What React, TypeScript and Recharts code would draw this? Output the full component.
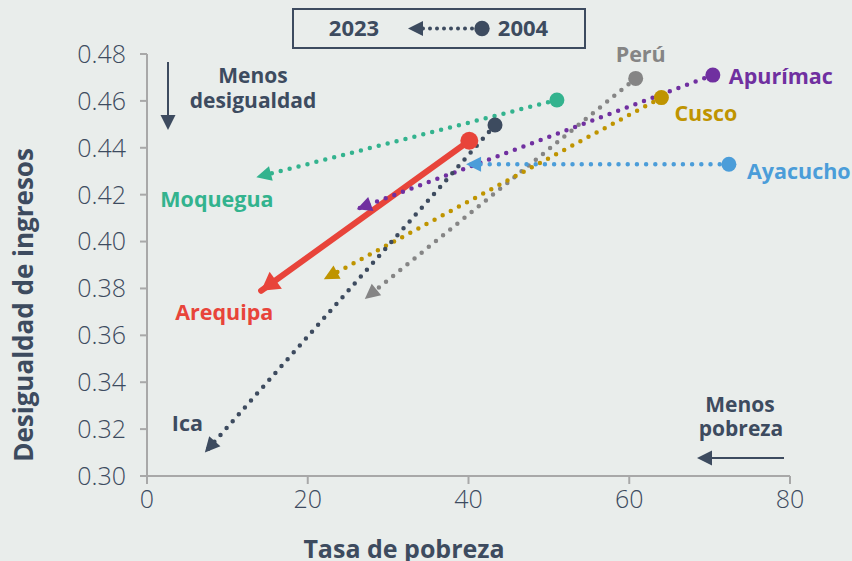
import React from 'react';
import { ComposedChart, Line, XAxis, YAxis, Label } from 'recharts';

// ---- data ----
const regions = ['Arequipa', 'Moquegua', 'Perú', 'Cusco', 'Apurímac', 'Ayacucho', 'Ica'];
const pobreza2004 = [40.1, 51.0, 60.8, 64.0, 70.4, 72.4, 43.3];
const desigualdad2004 = [0.443, 0.4604, 0.4696, 0.4614, 0.471, 0.433, 0.4497];
const pobreza2023 = [14.2, 13.6, 27.1, 22.0, 26.1, 39.7, 7.2];
const desigualdad2023 = [0.379, 0.4274, 0.3755, 0.3839, 0.4138, 0.433, 0.31];
const xTicks = [0, 20, 40, 60, 80];
const yTicks = [0.3, 0.32, 0.34, 0.36, 0.38, 0.4, 0.42, 0.44, 0.46, 0.48];
const xTitle = 'Tasa de pobreza';
const yTitle = 'Desigualdad de ingresos';
const legendFrom = '2023';
const legendTo = '2004';
const noteIneq = ['Menos', 'desigualdad'];
const notePov = ['Menos', 'pobreza'];

// ---- styles ----
const BG = '#e9edeb';
const INK = '#3d4b5f';
const FONT = '"Open Sans", "DejaVu Sans", sans-serif';

type Style = {
  color: string;
  solid?: boolean;
  labelAt: number;
  dx: number;
  dy: number;
  anchor: 'start' | 'middle' | 'end';
};
const styles: Record<string, Style> = {
  Arequipa: { color: '#e8443a', solid: true, labelAt: 1, dx: -86, dy: 21, anchor: 'start' },
  Moquegua: { color: '#33b38e', labelAt: 1, dx: -96, dy: 21, anchor: 'start' },
  'Perú': { color: '#858585', labelAt: 0, dx: 5, dy: -25, anchor: 'middle' },
  Cusco: { color: '#bf9400', labelAt: 0, dx: 13, dy: 15, anchor: 'start' },
  'Apurímac': { color: '#7030a0', labelAt: 0, dx: 16, dy: 0, anchor: 'start' },
  Ayacucho: { color: '#4b9dd9', labelAt: 0, dx: 18, dy: 6, anchor: 'start' },
  Ica: { color: '#3d4b5f', labelAt: 1, dx: -33, dy: -30, anchor: 'start' },
};

const seriesData = regions.map((name, i) => ({
  name,
  data: [
    { x: pobreza2004[i], y: desigualdad2004[i] },
    { x: pobreza2023[i], y: desigualdad2023[i] },
  ],
}));

const startPos: Record<string, { x: number; y: number }> = {};

const makeDot = (name: string) => (props: any) => {
  const { cx, cy, index, points } = props;
  const st = styles[name];
  const key = `${name}-${index}`;
  if (cx == null || cy == null) return <g key={key} />;
  let marker: React.ReactNode;
  if (index === 0) {
    startPos[name] = { x: cx, y: cy };
    marker = <circle cx={cx} cy={cy} r={st.solid ? 9 : 7.5} fill={st.color} />;
  } else {
    const prev = points && points[0] ? { x: points[0].x, y: points[0].y } : startPos[name];
    let ux = -1, uy = 0;
    if (prev) {
      const ddx = cx - prev.x, ddy = cy - prev.y;
      const l = Math.hypot(ddx, ddy) || 1;
      ux = ddx / l;
      uy = ddy / l;
    }
    const L = st.solid ? 18 : 15;
    const W = st.solid ? 21 : 15;
    const bx = cx - ux * L, by = cy - uy * L;
    const px = -uy, py = ux;
    const pts = `${cx},${cy} ${bx + (px * W) / 2},${by + (py * W) / 2} ${bx - (px * W) / 2},${by - (py * W) / 2}`;
    marker = <polygon points={pts} fill={st.color} />;
  }
  return (
    <g key={key}>
      {marker}
      {index === st.labelAt && (
        <text
          x={cx + st.dx}
          y={cy + st.dy}
          textAnchor={st.anchor}
          dominantBaseline="central"
          fontFamily={FONT}
          fontWeight={700}
          fontSize={21.5}
          fill={st.color}
        >
          {name}
        </text>
      )}
    </g>
  );
};

const XTitle = (props: any) => {
  const vb = props.viewBox || { x: 0, y: 0, width: 0, height: 0 };
  return (
    <text x={vb.x + 257} y={vb.y + 82} textAnchor="middle" fontFamily={FONT} fontWeight={700} fontSize={25} fill={INK}>
      {xTitle}
    </text>
  );
};

const YTitle = (props: any) => {
  const vb = props.viewBox || { x: 0, y: 0, width: 0, height: 0 };
  const cx = vb.x + 33;
  const cy = vb.y + vb.height / 2 + 40;
  return (
    <text x={cx} y={cy} transform={`rotate(-90 ${cx} ${cy})`} textAnchor="middle" fontFamily={FONT} fontWeight={700} fontSize={26} fill={INK}>
      {yTitle}
    </text>
  );
};

const tickStyle = { fontFamily: FONT, fontWeight: 300, fontSize: 25, fill: INK };

export default function App() {
  return (
    <div style={{ position: 'fixed', left: 0, top: 0, width: 852, height: 561, background: BG, overflow: 'hidden' }}>
      <ComposedChart width={852} height={561} margin={{ top: 54, right: 62, bottom: 0, left: 0 }}>
        <XAxis
          type="number"
          dataKey="x"
          domain={[0, 80]}
          ticks={xTicks}
          height={85}
          tick={tickStyle}
          tickSize={8}
          tickMargin={6}
          axisLine={{ stroke: '#a8a8a8', strokeWidth: 2 }}
          tickLine={{ stroke: '#a8a8a8', strokeWidth: 2 }}
        >
          <Label content={<XTitle />} />
        </XAxis>
        <YAxis
          type="number"
          dataKey="y"
          domain={[0.3, 0.48]}
          ticks={yTicks}
          width={147}
          tick={tickStyle}
          tickFormatter={(v: number) => v.toFixed(2)}
          tickSize={7}
          tickMargin={14}
          axisLine={{ stroke: '#a8a8a8', strokeWidth: 2 }}
          tickLine={{ stroke: '#a8a8a8', strokeWidth: 2 }}
        >
          <Label content={<YTitle />} />
        </YAxis>
        {seriesData.map((s) => {
          const st = styles[s.name];
          return (
            <Line
              key={s.name}
              data={s.data}
              dataKey="y"
              type="linear"
              stroke={st.color}
              strokeWidth={st.solid ? 6 : 4.5}
              strokeDasharray={st.solid ? undefined : '0 9.2'}
              strokeLinecap="round"
              dot={makeDot(s.name)}
              activeDot={false}
              isAnimationActive={false}
              legendType="none"
            />
          );
        })}
      </ComposedChart>
      <svg width={852} height={561} style={{ position: 'absolute', left: 0, top: 0, pointerEvents: 'none' }}>
        {/* legend box */}
        <rect x={293} y={9} width={292} height={39} fill="none" stroke={INK} strokeWidth={2} />
        <text x={354} y={36} textAnchor="middle" fontFamily={FONT} fontWeight={700} fontSize={22} fill={INK}>{legendFrom}</text>
        <line x1={423} y1={28.5} x2={478} y2={28.5} stroke={INK} strokeWidth={4} strokeDasharray="0 7" strokeLinecap="round" />
        <polygon points="408,28.5 423,21 423,36" fill={INK} />
        <circle cx={482} cy={28.5} r={7.7} fill={INK} />
        <text x={523} y={36} textAnchor="middle" fontFamily={FONT} fontWeight={700} fontSize={22} fill={INK}>{legendTo}</text>
        {/* menos desigualdad */}
        <line x1={168} y1={62} x2={168} y2={117} stroke={INK} strokeWidth={2} />
        <polygon points="160.5,115 175.5,115 168,130" fill={INK} />
        <text x={253} y={83} textAnchor="middle" fontFamily={FONT} fontWeight={700} fontSize={21} fill={INK}>{noteIneq[0]}</text>
        <text x={253} y={108} textAnchor="middle" fontFamily={FONT} fontWeight={700} fontSize={21} fill={INK}>{noteIneq[1]}</text>
        {/* menos pobreza */}
        <text x={740} y={412} textAnchor="middle" fontFamily={FONT} fontWeight={700} fontSize={21} fill={INK}>{notePov[0]}</text>
        <text x={741} y={436} textAnchor="middle" fontFamily={FONT} fontWeight={700} fontSize={21} fill={INK}>{notePov[1]}</text>
        <line x1={784} y1={458} x2={710} y2={458} stroke={INK} strokeWidth={2} />
        <polygon points="697,458 712,450.5 712,465.5" fill={INK} />
      </svg>
    </div>
  );
}
